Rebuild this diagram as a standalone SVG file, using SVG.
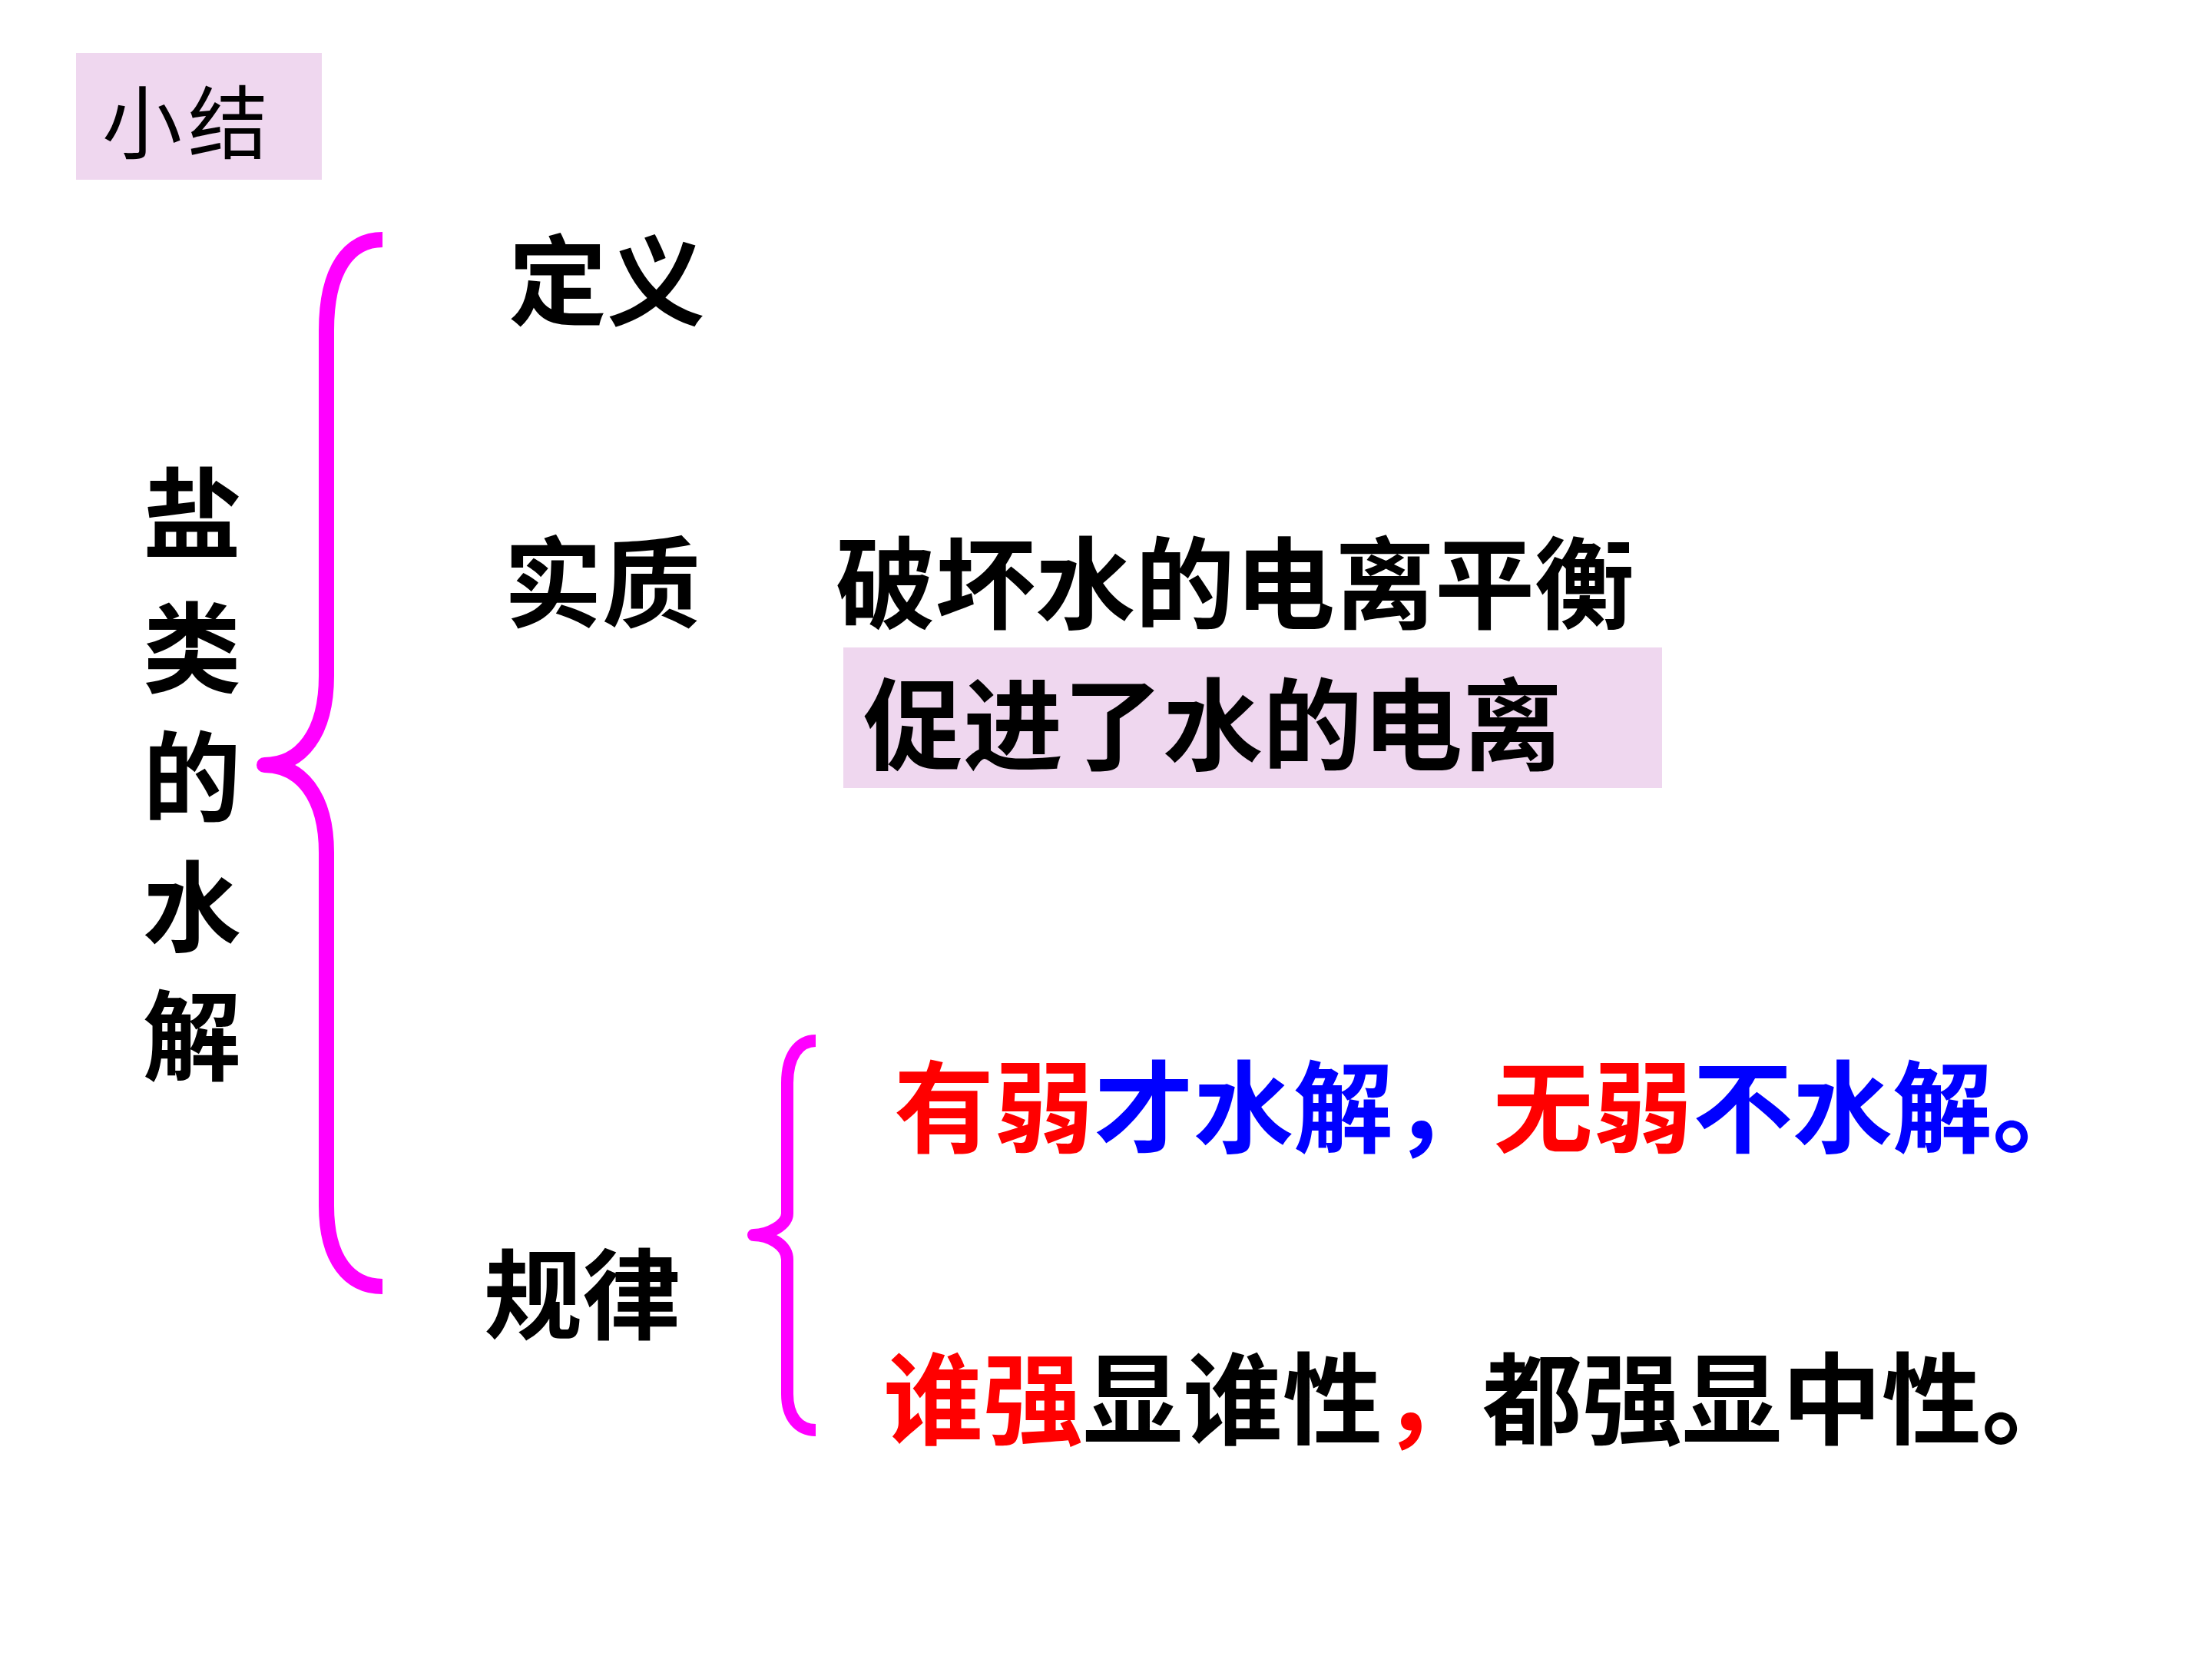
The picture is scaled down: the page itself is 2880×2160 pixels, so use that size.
<svg xmlns="http://www.w3.org/2000/svg" width="2880" height="2160" viewBox="0 0 2880 2160">
<style>
.t{font-family:"Noto Sans CJK SC","Noto Sans CJK JP",sans-serif;font-weight:700;font-size:128px;fill:#000}
.w{font-size:130px}
.r{fill:#FF0000}
.b{fill:#0000FF}
.br{fill:none;stroke:#FF00FF;stroke-linecap:butt;stroke-linejoin:round}
.box{fill:#EFD7EF}
</style>
<rect width="2880" height="2160" fill="#FFFFFF"/>
<g id="summary">
<rect class="box" x="99" y="69" width="320" height="165"/>
<text class="t" x="133" y="199" style="font-size:104px;font-weight:400;letter-spacing:8px">小结</text>
</g>
<g id="title">
<text class="t" x="250" y="717" text-anchor="middle">盐</text>
<text class="t" x="250" y="892" text-anchor="middle">类</text>
<text class="t" x="250" y="1060" text-anchor="middle">的</text>
<text class="t" x="250" y="1229" text-anchor="middle">水</text>
<text class="t" x="250" y="1397" text-anchor="middle">解</text>
</g>
<g id="connectors">
<path class="br" stroke-width="20" d="M498 312 C455 312 425 350 425 430 L425 880 C425 955 392 996 344 996 C392 996 425 1037 425 1110 L425 1570 C425 1640 455 1675 498 1675"/>
<path class="br" stroke-width="16" d="M1062 1355 C1040 1355 1025 1375 1025 1410 L1025 1580 C1025 1595 1000 1608 981 1608 C1000 1608 1025 1620 1025 1640 L1025 1815 C1025 1845 1040 1862 1062 1862"/>
</g>
<g id="definition">
<text class="t" x="662" y="414">定义</text>
</g>
<g id="essence">
<text class="t" x="656" y="807">实质</text>
</g>
<g id="essence-text">
<text class="t w" x="1088" y="808">破坏水的电离平衡</text>
</g>
<g id="essence-box">
<rect class="box" x="1098" y="843" width="1066" height="183"/>
<text class="t w" x="1124" y="992">促进了水的电离</text>
</g>
<g id="rule">
<text class="t" x="630" y="1734">规律</text>
</g>
<g id="rule-1">
<text class="t w" x="1164" y="1490"><tspan class="r">有弱</tspan><tspan class="b">才水解，</tspan><tspan class="r">无弱</tspan><tspan class="b">不水解。</tspan></text>
</g>
<g id="rule-2">
<text class="t w" x="1150" y="1870"><tspan class="r">谁强</tspan>显谁性<tspan class="r">，</tspan>都强显中性。</text>
</g>
</svg>
